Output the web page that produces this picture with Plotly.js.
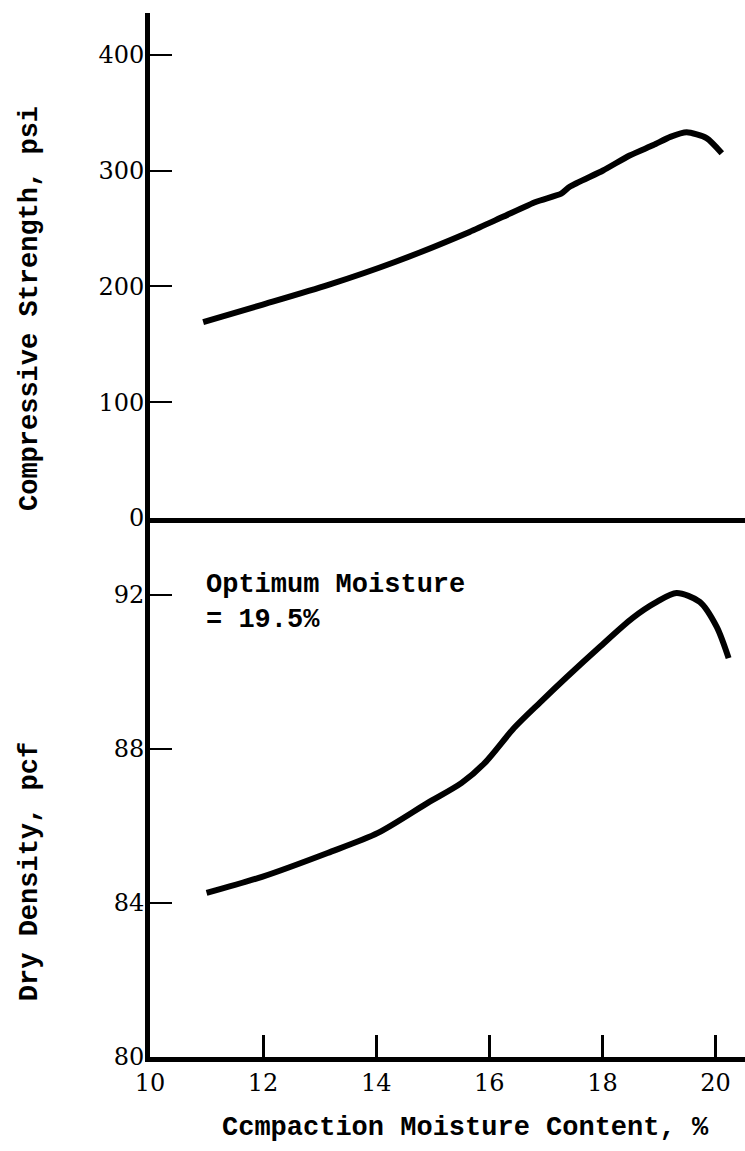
<!DOCTYPE html>
<html>
<head>
<meta charset="utf-8">
<script src="https://cdn.plot.ly/plotly-3.0.1.min.js"></script>
<style>html,body{margin:0;padding:0;background:#fff;}</style>
</head>
<body>
<div id="chart" style="width:745px;height:1151px;"></div>
<script>
// Compressive strength (psi) vs compaction moisture content (%)
const strengthMoisture = [10.94, 11.98, 13.14, 14.33, 15.65, 16.24, 16.83, 17.27, 17.42, 18.01, 18.48, 18.9, 19.2, 19.49, 19.84, 20.11];
const strengthValues   = [169, 184, 201, 221, 247, 260, 273, 280, 286, 300, 313, 322, 329, 333, 328, 315];

// Dry density (pcf) vs compaction moisture content (%)
const densityMoisture = [11.0, 11.98, 13.14, 14.03, 14.91, 15.51, 15.92, 16.44, 16.89, 17.37, 17.95, 18.53, 18.96, 19.31, 19.72, 20.02, 20.23];
const densityValues   = [84.26, 84.68, 85.3, 85.82, 86.6, 87.12, 87.64, 88.55, 89.2, 89.87, 90.65, 91.4, 91.82, 92.05, 91.82, 91.17, 90.36];

const xTicks = [10, 12, 14, 16, 18, 20];
const strengthTicks = [0, 100, 200, 300, 400];
const densityTicks = [80, 84, 88, 92];

const xTitle = "Ccmpaction Moisture Content, %";
const strengthTitle = "Compressive Strength, psi";
const densityTitle = "Dry Density, pcf";
const annotationLines = ["Optimum Moisture", "= 19.5%"];

const tickFont = {family: "DejaVu Serif", size: 24, color: "#000"};
const titleFont = {family: "Liberation Mono", size: 27, color: "#000", weight: "bold"};

const traces = [
  {x: strengthMoisture, y: strengthValues, xaxis: "x2", yaxis: "y2", mode: "lines",
   line: {color: "#000", width: 6, shape: "spline", smoothing: 0.6}, hoverinfo: "skip"},
  {x: densityMoisture, y: densityValues, xaxis: "x", yaxis: "y", mode: "lines",
   line: {color: "#000", width: 6, shape: "spline", smoothing: 0.8}, hoverinfo: "skip"}
];

const layout = {
  width: 745, height: 1151,
  margin: {l: 150, r: 0, t: 13, b: 94},
  paper_bgcolor: "#fff", plot_bgcolor: "#fff",
  showlegend: false,
  xaxis: {
    anchor: "y", domain: [0, 1], range: [10, 20.52],
    tickvals: xTicks, ticktext: xTicks.map(String),
    ticks: "inside", ticklen: 22, tickwidth: 3, tickcolor: "#000",
    showline: true, linewidth: 5, linecolor: "#000",
    showgrid: false, zeroline: false,
    tickfont: tickFont
  },
  xaxis2: {
    anchor: "y2", matches: "x", domain: [0, 1], range: [10, 20.52],
    showticklabels: false, ticks: "",
    showline: true, linewidth: 5, linecolor: "#000",
    showgrid: false, zeroline: false
  },
  yaxis: {
    anchor: "x", domain: [0, 0.5163], range: [80, 94],
    tickvals: densityTicks, ticktext: densityTicks.map(String),
    ticks: "inside", ticklen: 22, tickwidth: 2, tickcolor: "#000",
    showline: true, linewidth: 5, linecolor: "#000",
    showgrid: false, zeroline: false,
    tickfont: tickFont, ticklabelstandoff: -4
  },
  yaxis2: {
    anchor: "x2", domain: [0.5163, 1], range: [0, 436],
    tickvals: strengthTicks, ticktext: strengthTicks.map(String),
    ticks: "inside", ticklen: 22, tickwidth: 2, tickcolor: "#000",
    showline: true, linewidth: 5, linecolor: "#000",
    showgrid: false, zeroline: false,
    tickfont: tickFont, ticklabelstandoff: -4
  },
  annotations: [
    {xref: "x", yref: "y", x: 10.95, y: 91.8, xanchor: "left", yanchor: "middle",
     text: annotationLines.join("<br>"), align: "left", showarrow: false,
     font: {family: "Liberation Mono", size: 27, color: "#000", weight: "bold"}},
    {xref: "paper", yref: "paper", x: 0.531, y: -0.068, xanchor: "center", yanchor: "middle",
     text: xTitle, showarrow: false, font: titleFont},
    {xref: "paper", yref: "paper", x: -0.2017, y: 0.7174, xanchor: "center", yanchor: "middle",
     textangle: -90, text: strengthTitle, showarrow: false, font: titleFont},
    {xref: "paper", yref: "paper", x: -0.2017, y: 0.178, xanchor: "center", yanchor: "middle",
     textangle: -90, text: densityTitle, showarrow: false, font: titleFont}
  ]
};

Plotly.newPlot("chart", traces, layout, {displayModeBar: false, staticPlot: true});
</script>
</body>
</html>
